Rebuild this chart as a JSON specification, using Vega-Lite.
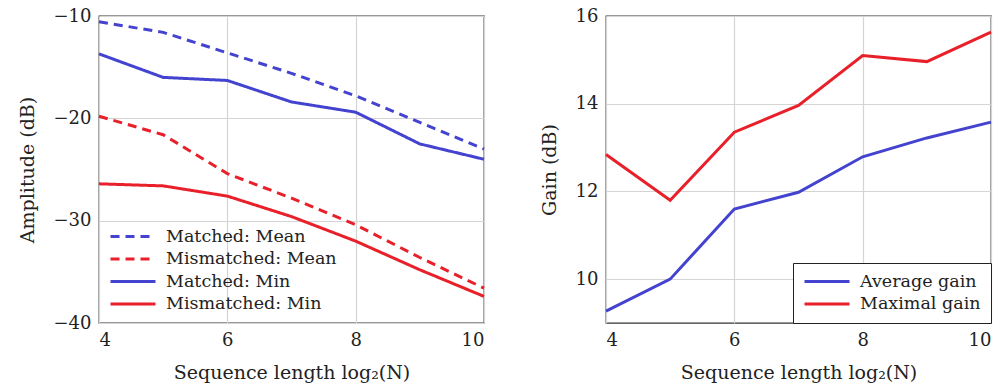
{
  "$schema": "https://vega.github.io/schema/vega-lite/v6.json",
  "padding": {"left": 17, "top": 6, "right": 0, "bottom": 2},
  "spacing": 48,
  "config": {
    "font": "DejaVu Serif",
    "view": {"stroke": "#333333", "strokeWidth": 1.3},
    "axis": {
      "domain": false,
      "ticks": false,
      "grid": true,
      "gridColor": "#d4d4d4",
      "gridWidth": 1.2,
      "labelFont": "DejaVu Serif",
      "titleFont": "DejaVu Serif",
      "labelFontSize": 18,
      "titleFontSize": 19,
      "titleFontWeight": "normal",
      "labelColor": "#222222",
      "titleColor": "#222222",
      "labelPadding": 8
    },
    "legend": {
      "labelFont": "DejaVu Serif",
      "labelFontSize": 17.5,
      "labelColor": "#222222",
      "labelLimit": 400,
      "symbolType": "stroke",
      "symbolSize": 2025,
      "symbolStrokeWidth": 3,
      "clipHeight": 17,
      "rowPadding": 4.5,
      "labelOffset": 9,
      "title": null
    }
  },
  "datasets": {
    "amp": [
      {"n": 4, "series": "Matched: Mean", "v": -10.56},
      {"n": 5, "series": "Matched: Mean", "v": -11.6},
      {"n": 6, "series": "Matched: Mean", "v": -13.6},
      {"n": 7, "series": "Matched: Mean", "v": -15.6},
      {"n": 8, "series": "Matched: Mean", "v": -17.8},
      {"n": 9, "series": "Matched: Mean", "v": -20.4},
      {"n": 10, "series": "Matched: Mean", "v": -23.0},
      {"n": 4, "series": "Mismatched: Mean", "v": -19.8},
      {"n": 5, "series": "Mismatched: Mean", "v": -21.6},
      {"n": 6, "series": "Mismatched: Mean", "v": -25.4},
      {"n": 7, "series": "Mismatched: Mean", "v": -27.8},
      {"n": 8, "series": "Mismatched: Mean", "v": -30.4},
      {"n": 9, "series": "Mismatched: Mean", "v": -33.6},
      {"n": 10, "series": "Mismatched: Mean", "v": -36.6},
      {"n": 4, "series": "Matched: Min", "v": -13.7},
      {"n": 5, "series": "Matched: Min", "v": -16.0},
      {"n": 6, "series": "Matched: Min", "v": -16.3},
      {"n": 7, "series": "Matched: Min", "v": -18.4},
      {"n": 8, "series": "Matched: Min", "v": -19.4},
      {"n": 9, "series": "Matched: Min", "v": -22.5},
      {"n": 10, "series": "Matched: Min", "v": -24.0},
      {"n": 4, "series": "Mismatched: Min", "v": -26.4},
      {"n": 5, "series": "Mismatched: Min", "v": -26.6},
      {"n": 6, "series": "Mismatched: Min", "v": -27.6},
      {"n": 7, "series": "Mismatched: Min", "v": -29.6},
      {"n": 8, "series": "Mismatched: Min", "v": -32.0},
      {"n": 9, "series": "Mismatched: Min", "v": -34.8},
      {"n": 10, "series": "Mismatched: Min", "v": -37.4}
    ],
    "gain": [
      {"n": 4, "series": "Average gain", "v": 9.27},
      {"n": 5, "series": "Average gain", "v": 10.0},
      {"n": 6, "series": "Average gain", "v": 11.6},
      {"n": 7, "series": "Average gain", "v": 11.98},
      {"n": 8, "series": "Average gain", "v": 12.79},
      {"n": 9, "series": "Average gain", "v": 13.22},
      {"n": 10, "series": "Average gain", "v": 13.58},
      {"n": 4, "series": "Maximal gain", "v": 12.84},
      {"n": 5, "series": "Maximal gain", "v": 11.8},
      {"n": 6, "series": "Maximal gain", "v": 13.35},
      {"n": 7, "series": "Maximal gain", "v": 13.96},
      {"n": 8, "series": "Maximal gain", "v": 15.1},
      {"n": 9, "series": "Maximal gain", "v": 14.96},
      {"n": 10, "series": "Maximal gain", "v": 15.63}
    ]
  },
  "hconcat": [
    {
      "width": 385,
      "height": 307,
      "data": {"name": "amp"},
      "mark": {"type": "line", "strokeWidth": 3},
      "encoding": {
        "x": {"field": "n", "type": "quantitative", "title": "Sequence length log₂(N)",
              "scale": {"domain": [4, 10], "nice": false, "zero": false},
              "axis": {"values": [4, 6, 8, 10], "titlePadding": 14}},
        "y": {"field": "v", "type": "quantitative", "title": "Amplitude (dB)",
              "scale": {"domain": [-40, -10], "nice": false, "zero": false},
              "axis": {"values": [-40, -30, -20, -10], "titlePadding": 16}},
        "color": {"field": "series", "type": "nominal",
                  "scale": {"domain": ["Matched: Mean", "Mismatched: Mean", "Matched: Min", "Mismatched: Min"],
                            "range": ["#4343CF", "#E8202A", "#4343CF", "#E8202A"]},
                  "legend": {"orient": "bottom-left", "offset": 10, "padding": 0}},
        "strokeDash": {"field": "series", "type": "nominal",
                       "scale": {"domain": ["Matched: Mean", "Mismatched: Mean", "Matched: Min", "Mismatched: Min"],
                                 "range": [[9, 6], [9, 6], [1, 0], [1, 0]]},
                       "legend": {"orient": "bottom-left", "offset": 10, "padding": 0}}
      }
    },
    {
      "width": 385,
      "height": 307,
      "data": {"name": "gain"},
      "mark": {"type": "line", "strokeWidth": 3},
      "encoding": {
        "x": {"field": "n", "type": "quantitative", "title": "Sequence length log₂(N)",
              "scale": {"domain": [4, 10], "nice": false, "zero": false},
              "axis": {"values": [4, 6, 8, 10], "titlePadding": 14}},
        "y": {"field": "v", "type": "quantitative", "title": "Gain (dB)",
              "scale": {"domain": [9, 16], "nice": false, "zero": false},
              "axis": {"values": [10, 12, 14, 16], "titlePadding": 16}},
        "color": {"field": "series", "type": "nominal",
                  "scale": {"domain": ["Average gain", "Maximal gain"], "range": ["#4343CF", "#E8202A"]},
                  "legend": {"orient": "bottom-right", "offset": 0, "padding": 10,
                             "strokeColor": "#222222", "fillColor": "white"}}
      }
    }
  ],
  "resolve": {"scale": {"color": "independent", "strokeDash": "independent"}, "legend": {"color": "independent", "strokeDash": "independent"}}
}
